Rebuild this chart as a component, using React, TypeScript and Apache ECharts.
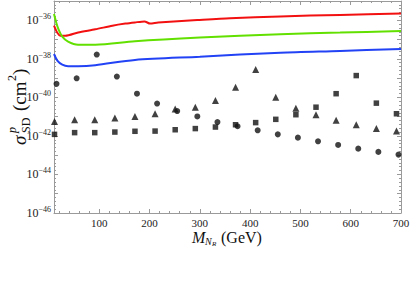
import React, { useEffect, useRef } from 'react';
import * as echarts from 'echarts';

// log10 of sigma (cm^2)
const redMass = [10, 16.6, 22.5, 32.5, 58, 92, 126, 152, 171, 190, 201, 217, 295, 360, 460, 579, 700];
const redLog = [-36.28, -36.65, -36.8, -36.8, -36.63, -36.47, -36.28, -36.17, -36.11, -36.06, -36.17, -36.12, -35.99, -35.89, -35.8, -35.72, -35.65];

const greenMass = [10, 14.6, 18.5, 26.5, 38, 58, 92, 171, 300, 460, 579, 700];
const greenLog = [-35.68, -36.13, -36.44, -36.85, -37.11, -37.27, -37.27, -37.09, -36.9, -36.72, -36.64, -36.56];

const blueMass = [10, 16.6, 26.5, 38, 58, 92, 171, 300, 460, 579, 700];
const blueLog = [-37.75, -38.09, -38.3, -38.38, -38.38, -38.33, -38.06, -37.89, -37.68, -37.59, -37.49];

const circleMass = [15, 55, 95, 135, 175, 215, 255, 295, 335, 375, 415, 455, 495, 535, 575, 615, 655, 695];
const circleLog = [-39.3, -39.01, -37.78, -38.92, -39.81, -40.32, -40.71, -40.99, -41.28, -41.5, -41.71, -41.92, -42.09, -42.28, -42.47, -42.66, -42.83, -42.97];

const triMass = [11, 51, 91, 131, 171, 211, 251, 291, 331, 371, 411, 451, 491, 531, 571, 611, 651, 691];
const triLog = [-41.25, -41.16, -41.16, -41.07, -40.99, -40.85, -40.6, -40.51, -40.16, -39.47, -38.56, -39.99, -40.56, -40.9, -41.19, -41.42, -41.62, -41.75];

const sqMass = [11, 51, 91, 131, 171, 211, 251, 291, 331, 371, 411, 451, 491, 531, 571, 611, 651, 691];
const sqLog = [-41.92, -41.83, -41.83, -41.8, -41.76, -41.75, -41.68, -41.62, -41.54, -41.42, -41.31, -41.14, -40.9, -40.51, -39.81, -38.87, -40.3, -40.85];

const xTickLabels = [100, 200, 300, 400, 500, 600, 700];
const xMinorTicks = [20, 40, 60, 80, 120, 140, 160, 180, 220, 240, 260, 280, 320, 340, 360, 380, 420, 440, 460, 480, 520, 540, 560, 580, 620, 640, 660, 680];

const SERIF = 'Liberation Serif';
const AXIS = '#9a9a9a';

function pairs(xs: number[], ys: number[]) {
  return xs.map((x, i) => [x, ys[i]]);
}

export default function App() {
  const ref = useRef<HTMLDivElement>(null);
  useEffect(() => {
    if (!ref.current) return;
    const chart = echarts.init(ref.current, undefined, { renderer: 'svg' });
    const xCommon = {
      type: 'value' as const,
      min: 10,
      max: 700,
      splitLine: { show: false },
      axisLine: { show: true, lineStyle: { color: AXIS, width: 1 } },
    };
    const yCommon = {
      type: 'value' as const,
      min: -46,
      max: -35,
      interval: 1,
      splitLine: { show: false },
      axisLine: { show: true, lineStyle: { color: AXIS, width: 1 } },
      axisTick: { show: true, inside: true, length: 4, lineStyle: { color: AXIS } },
      minorTick: { show: true, splitNumber: 5, length: 2, lineStyle: { color: AXIS } },
    };
    chart.setOption({
      animation: false,
      grid: { left: 54, right: 14, top: 1, bottom: 93, containLabel: false },
      xAxis: [
        {
          ...xCommon,
          position: 'bottom',
          axisTick: { show: true, inside: true, length: 4, customValues: xTickLabels, lineStyle: { color: AXIS } },
          axisLabel: {
            customValues: xTickLabels,
            fontFamily: SERIF,
            fontSize: 11,
            color: '#222',
            margin: 4,
          },
        },
        {
          ...xCommon,
          position: 'bottom',
          axisLine: { show: false },
          axisTick: { show: true, inside: true, length: 2, customValues: xMinorTicks, lineStyle: { color: AXIS } },
          axisLabel: { show: false },
        },
        {
          ...xCommon,
          position: 'top',
          axisTick: { show: true, inside: true, length: 4, customValues: xTickLabels, lineStyle: { color: AXIS } },
          axisLabel: { show: false },
        },
        {
          ...xCommon,
          position: 'top',
          axisLine: { show: false },
          axisTick: { show: true, inside: true, length: 2, customValues: xMinorTicks, lineStyle: { color: AXIS } },
          axisLabel: { show: false },
        },
      ],
      yAxis: [
        {
          ...yCommon,
          position: 'left',
          axisLabel: {
            margin: 3,
            formatter: (v: number) => {
              const e = Math.round(v);
              if (e % 2 !== 0 || e === -35) return '';
              return `{b|10}{s|−${-e}}`;
            },
            rich: {
              b: { fontFamily: SERIF, fontSize: 12, color: '#222' },
              s: { fontFamily: SERIF, fontSize: 8, color: '#222', padding: [0, 0, 7, 0] },
            },
          },
        },
        {
          ...yCommon,
          position: 'right',
          axisLabel: { show: false },
        },
      ],
      graphic: [
        {
          type: 'group',
          x: 19,
          y: 145,
          rotation: Math.PI / 2,
          children: [
            { type: 'text', x: 0, y: 0, style: { text: 'σ', font: `italic 19px ${SERIF}`, fill: '#111', verticalAlign: 'middle' } },
            { type: 'text', x: 12, y: -7, style: { text: 'p', font: `italic 12px ${SERIF}`, fill: '#111', verticalAlign: 'middle' } },
            { type: 'text', x: 12, y: 7, style: { text: 'SD', font: `12px ${SERIF}`, fill: '#111', verticalAlign: 'middle' } },
            { type: 'text', x: 34, y: 0, style: { text: '(cm', font: `19px ${SERIF}`, fill: '#111', verticalAlign: 'middle' } },
            { type: 'text', x: 64, y: -7, style: { text: '2', font: `12px ${SERIF}`, fill: '#111', verticalAlign: 'middle' } },
            { type: 'text', x: 70, y: 0, style: { text: ')', font: `19px ${SERIF}`, fill: '#111', verticalAlign: 'middle' } },
          ],
        },
        { type: 'text', x: 192, y: 237, style: { text: 'M', font: `italic 16px ${SERIF}`, fill: '#111', verticalAlign: 'middle' } },
        { type: 'text', x: 205, y: 241, style: { text: 'N', font: `italic 10px ${SERIF}`, fill: '#111', verticalAlign: 'middle' } },
        { type: 'text', x: 212, y: 244, style: { text: 'R', font: `italic 7px ${SERIF}`, fill: '#111', verticalAlign: 'middle' } },
        { type: 'text', x: 221, y: 237, style: { text: '(GeV)', font: `16px ${SERIF}`, fill: '#111', verticalAlign: 'middle' } },
      ],
      series: [
        { type: 'line', data: pairs(redMass, redLog), showSymbol: false, smooth: 0.25, lineStyle: { color: '#f21010', width: 2 } },
        { type: 'line', data: pairs(greenMass, greenLog), showSymbol: false, smooth: 0.3, lineStyle: { color: '#62e000', width: 2 } },
        { type: 'line', data: pairs(blueMass, blueLog), showSymbol: false, smooth: 0.3, lineStyle: { color: '#2242f5', width: 2 } },
        { type: 'scatter', data: pairs(circleMass, circleLog), symbol: 'circle', symbolSize: 6, itemStyle: { color: '#111' } },
        { type: 'scatter', data: pairs(triMass, triLog), symbol: 'triangle', symbolSize: 7, itemStyle: { color: '#111' } },
        { type: 'scatter', data: pairs(sqMass, sqLog), symbol: 'rect', symbolSize: 5.5, itemStyle: { color: '#111' } },
      ],
    });
    return () => chart.dispose();
  }, []);
  return <div ref={ref} style={{ width: 415, height: 306, position: 'absolute', left: 0, top: 0 }} />;
}
